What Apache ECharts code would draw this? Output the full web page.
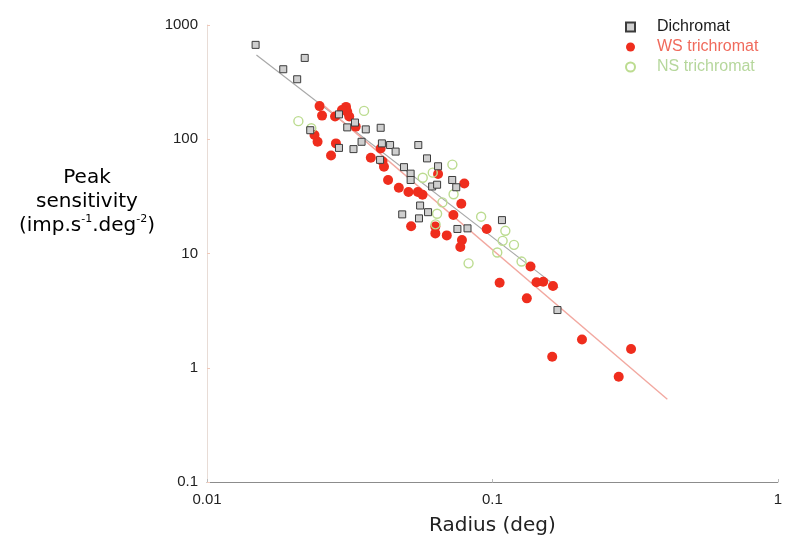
<!DOCTYPE html>
<html>
<head>
<meta charset="utf-8">
<script src="https://cdn.jsdelivr.net/npm/echarts@6/dist/echarts.min.js"></script>
<style>
html,body{margin:0;padding:0;background:#fff;}
#c{width:785px;height:543px;}
</style>
</head>
<body>
<div id="c"></div>
<script>
// Data: [radius (deg), peak sensitivity]
const dichromat = [[0.0148,670],[0.022,515],[0.0185,410],[0.0207,335],[0.029,165],[0.033,140],[0.031,127],[0.036,122],[0.0406,126],[0.023,120],[0.041,92],[0.0438,89],[0.0458,78],[0.029,84],[0.0326,82],[0.0404,66],[0.0348,95],[0.055,89],[0.059,68],[0.0645,58],[0.049,57],[0.0517,50],[0.0517,44],[0.0615,38.6],[0.064,40],[0.0723,44],[0.0747,38],[0.0558,26.3],[0.0483,22],[0.0553,20.3],[0.0595,23],[0.0754,16.4],[0.0818,16.6],[0.108,19.6],[0.169,3.2]];
const wsTrichromat = [[0.0248,195],[0.0253,161],[0.0281,158],[0.0307,192],[0.031,174],[0.0297,180],[0.0315,158],[0.0332,129],[0.0238,109],[0.0244,95],[0.0283,92],[0.0272,72],[0.0406,83],[0.0375,69],[0.0412,64],[0.0417,57.5],[0.0431,44],[0.047,37.6],[0.0508,34.5],[0.0548,34.5],[0.0569,32.7],[0.0645,49.6],[0.0797,41],[0.0778,27.3],[0.073,21.7],[0.0519,17.3],[0.0631,17.2],[0.0631,15],[0.0692,14.4],[0.0782,13.1],[0.0772,11.4],[0.0955,16.4],[0.136,7.7],[0.106,5.55],[0.1427,5.6],[0.1506,5.65],[0.163,5.2],[0.132,4.05],[0.206,1.77],[0.306,1.46],[0.162,1.25],[0.277,0.835]];
const nsTrichromat = [[0.0355,177],[0.0209,144],[0.0232,125],[0.0724,60],[0.057,46],[0.0618,51],[0.0731,33],[0.0668,28],[0.064,22.3],[0.0913,21],[0.0632,18],[0.111,15.8],[0.1086,12.9],[0.119,11.9],[0.104,10.2],[0.1265,8.5],[0.0825,8.2]];
// Fitted lines (end points)
const dichromatFit = [[0.0149,546],[0.17,5.0]];
const wsFit = [[0.0258,195],[0.41,0.53]];
// Axis ranges / labels
const xRange = [0.01, 1];
const yRange = [0.1, 1000];
const seriesNames = ['Dichromat','WS trichromat','NS trichromat'];

const sans = '"Liberation Sans", Arial, sans-serif';
const titleFont = '"DejaVu Sans", sans-serif';
const chart = echarts.init(document.getElementById('c'), null, {renderer:'canvas'});
const fmt = v => String(+(+v).toPrecision(3));

chart.setOption({
  backgroundColor:'#fff',
  animation:false,
  grid:{left:207,right:5,top:25,bottom:61,containLabel:false},
  legend:{
    orient:'vertical', left:620, top:14, itemWidth:9, itemHeight:9, itemGap:4,
    textStyle:{fontFamily:sans,fontSize:16,lineHeight:16,padding:[0,0,0,17]},
    data:[
      {name:seriesNames[0], textStyle:{color:'#1a1a1a'}},
      {name:seriesNames[1], textStyle:{color:'#f06a5c'}},
      {name:seriesNames[2], textStyle:{color:'#b6d79c'}}
    ]
  },
  xAxis:{
    type:'log', logBase:10, min:xRange[0], max:xRange[1],
    splitLine:{show:false},
    axisLine:{lineStyle:{color:'#8c8c8c',width:1}},
    axisTick:{inside:true,length:3,lineStyle:{color:'#bbbbbb'}},
    minorTick:{show:false},
    axisLabel:{margin:10,fontFamily:sans,fontSize:15,color:'#222',formatter:fmt},
    name:'Radius (deg)', nameLocation:'middle', nameGap:34,
    nameTextStyle:{fontFamily:titleFont,fontSize:20,color:'#222'}
  },
  yAxis:{
    type:'log', logBase:10, min:yRange[0], max:yRange[1],
    splitLine:{show:false},
    axisLine:{lineStyle:{color:'#e8dcd6',width:1}},
    axisTick:{inside:true,length:3,lineStyle:{color:'#f0c8b8'}},
    minorTick:{show:false},
    axisLabel:{margin:9,fontFamily:sans,fontSize:15,color:'#222',formatter:fmt}
  },
  graphic:[{
    type:'text', left:null, x:87, y:166,
    style:{
      text:'{n|Peak}\n{n|sensitivity}\n{n|(imp.s}{s|-1}{n|.deg}{s|-2}{n|)}',
      align:'center', verticalAlign:'top',
      rich:{
        n:{fontFamily:titleFont,fontSize:20,lineHeight:24,color:'#222'},
        s:{fontFamily:titleFont,fontSize:11,lineHeight:24,verticalAlign:'top',color:'#222',padding:[0,0,0,0]}
      }
    }
  }],
  series:[
    {name:'fit-d', type:'line', data:dichromatFit, symbol:'none', silent:true,
     lineStyle:{color:'#a8a8a8',width:1.2}, z:1},
    {name:'fit-ws', type:'line', data:wsFit, symbol:'none', silent:true,
     lineStyle:{color:'#f2a8a0',width:1.4}, z:1},
    {name:seriesNames[1], type:'scatter', data:wsTrichromat, symbol:'circle', symbolSize:10,
     itemStyle:{color:'#ef2d1d',opacity:1}, z:2},
    {name:seriesNames[2], type:'scatter', data:nsTrichromat, symbol:'circle', symbolSize:9,
     itemStyle:{color:'rgba(255,255,255,0)',borderColor:'#bcdc90',borderWidth:1.4,opacity:1}, z:3},
    {name:seriesNames[0], type:'scatter', data:dichromat, symbol:'rect', symbolSize:7,
     itemStyle:{color:'#cfcfcf',borderColor:'#3c3c3c',borderWidth:1,opacity:1}, z:4}
  ]
});
</script>
</body>
</html>
